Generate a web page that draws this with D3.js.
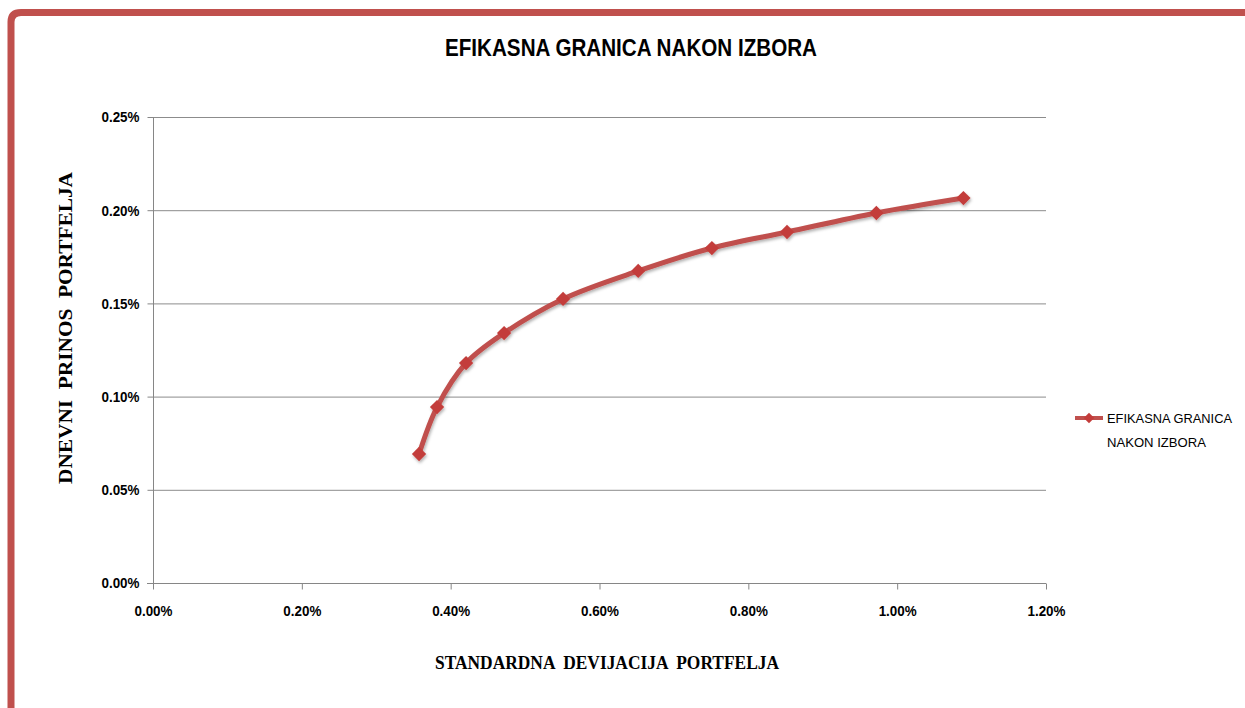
<!DOCTYPE html>
<html>
<head>
<meta charset="utf-8">
<script src="https://cdn.jsdelivr.net/npm/d3@7"></script>
<style>
  body { margin: 0; background: #fff; }
  svg { display: block; }
</style>
</head>
<body>
<div id="chart"></div>
<script>
// data: standard deviation (%) vs daily return (%)
const stdDev = [0.3575, 0.3817, 0.4207, 0.4718, 0.551, 0.652, 0.751, 0.852, 0.972, 1.089];
const dailyReturn = [0.0692, 0.0944, 0.118, 0.1341, 0.1524, 0.1674, 0.1797, 0.1883, 0.1985, 0.2065];
const xTicks = [0, 0.2, 0.4, 0.6, 0.8, 1.0, 1.2];
const yTicks = [0, 0.05, 0.1, 0.15, 0.2, 0.25];
const xTickLabels = ["0.00%", "0.20%", "0.40%", "0.60%", "0.80%", "1.00%", "1.20%"];
const yTickLabels = ["0.00%", "0.05%", "0.10%", "0.15%", "0.20%", "0.25%"];
const chartTitle = "EFIKASNA GRANICA NAKON IZBORA";
const xTitle = "STANDARDNA  DEVIJACIJA  PORTFELJA";
const yTitle = "DNEVNI  PRINOS  PORTFELJA";

const width = 1245, height = 708;
const red = "#c0504d";
const lineRed = "#c0504d";
const narrow = "'Liberation Sans Narrow', 'Arial Narrow', 'Liberation Sans', sans-serif";
const serif = "'Liberation Serif', 'Times New Roman', serif";

const svg = d3.select("#chart").append("svg")
  .attr("width", width)
  .attr("height", height);

// outer frame (red border, rounded top-left)
svg.append("path")
  .attr("d", "M11,708 L11,22 Q11,12.5 21,12.5 L1245,12.5")
  .attr("fill", "none")
  .attr("stroke", red)
  .attr("stroke-width", 7);

const data = stdDev.map((d, i) => ({ x: d, y: dailyReturn[i] }));

const x = d3.scaleLinear().domain([0, 1.2]).range([153, 1046]);
const y = d3.scaleLinear().domain([0, 0.25]).range([583, 117]);

// gridlines
svg.append("g")
  .selectAll("line")
  .data(yTicks.slice(1))
  .enter()
  .append("line")
  .attr("x1", x(0))
  .attr("x2", x(1.2))
  .attr("y1", d => y(d) + 0.5)
  .attr("y2", d => y(d) + 0.5)
  .attr("stroke", "#8c8c8c")
  .attr("stroke-width", 1);

// axes
const xAxis = svg.append("g")
  .attr("class", "x-axis")
  .attr("transform", "translate(0," + (y(0) + 0.5) + ")")
  .call(d3.axisBottom(x).tickValues(xTicks).tickSize(6).tickPadding(16)
    .tickFormat((d, i) => xTickLabels[i]));

const yAxis = svg.append("g")
  .attr("class", "y-axis")
  .attr("transform", "translate(" + (x(0) + 0.5) + ",0)")
  .call(d3.axisLeft(y).tickValues(yTicks).tickSize(6).tickPadding(8)
    .tickFormat((d, i) => yTickLabels[i]));

[xAxis, yAxis].forEach(g => {
  g.select(".domain").attr("stroke", "#868686").attr("stroke-width", 1);
  g.selectAll(".tick line").attr("stroke", "#868686");
  g.selectAll(".tick text")
    .attr("fill", "#000")
    .style("font-family", narrow)
    .style("font-weight", "bold")
    .style("font-size", "15px")
    .attr("textLength", 38)
    .attr("lengthAdjust", "spacingAndGlyphs");
});
xAxis.select(".domain").attr("d", "M" + (x(0) - 6) + ",0H" + x(1.2));
yAxis.select(".domain").attr("d", "M0," + y(0.25) + "V" + y(0));

// shadow filter
const defs = svg.append("defs");
const f = defs.append("filter").attr("id", "shadow")
  .attr("x", "-10%").attr("y", "-10%").attr("width", "120%").attr("height", "130%");
f.append("feDropShadow")
  .attr("dx", 1).attr("dy", 2).attr("stdDeviation", 1.5)
  .attr("flood-color", "#000").attr("flood-opacity", 0.3);

// series line
const line = d3.line()
  .x(d => x(d.x))
  .y(d => y(d.y))
  .curve(d3.curveCatmullRom.alpha(0.5));

const series = svg.append("g").attr("filter", "url(#shadow)");
series.append("path")
  .datum(data)
  .attr("d", line)
  .attr("fill", "none")
  .attr("stroke", lineRed)
  .attr("stroke-width", 5)
  .attr("stroke-linejoin", "round");

const diamond = d3.symbol().type(d3.symbolDiamond2).size(130);
series.selectAll(".marker")
  .data(data)
  .enter()
  .append("path")
  .attr("class", "marker")
  .attr("d", diamond)
  .attr("transform", d => "translate(" + x(d.x) + "," + y(d.y) + ")")
  .attr("fill", "#c33c3a");

// title
svg.append("text")
  .attr("x", 631)
  .attr("y", 56)
  .attr("text-anchor", "middle")
  .style("font-family", narrow)
  .style("font-weight", "bold")
  .style("font-size", "23px")
  .attr("textLength", 372)
  .attr("lengthAdjust", "spacingAndGlyphs")
  .text(chartTitle);

// axis titles
svg.append("text")
  .attr("x", 607)
  .attr("y", 669)
  .attr("text-anchor", "middle")
  .style("font-family", serif)
  .style("font-weight", "bold")
  .style("font-size", "18px")
  .attr("xml:space", "preserve")
  .attr("textLength", 344)
  .attr("lengthAdjust", "spacingAndGlyphs")
  .text(xTitle);

svg.append("text")
  .attr("transform", "translate(72,328) rotate(-90)")
  .attr("text-anchor", "middle")
  .style("font-family", serif)
  .style("font-weight", "bold")
  .style("font-size", "19px")
  .attr("xml:space", "preserve")
  .attr("textLength", 312)
  .attr("lengthAdjust", "spacingAndGlyphs")
  .text(yTitle);

// legend
const legend = svg.append("g").attr("transform", "translate(1075,418)");
legend.append("line")
  .attr("x1", 0).attr("x2", 28)
  .attr("y1", 0).attr("y2", 0)
  .attr("stroke", lineRed)
  .attr("stroke-width", 4);
legend.append("path")
  .attr("d", d3.symbol().type(d3.symbolDiamond2).size(70))
  .attr("transform", "translate(14,0)")
  .attr("fill", "#c33c3a");
const legendText = legend.append("text")
  .attr("x", 32)
  .attr("y", 5)
  .style("font-family", narrow)
  .style("font-size", "13px")
  .attr("fill", "#000");
legendText.append("tspan").attr("x", 32).attr("dy", 0)
  .attr("textLength", 125).attr("lengthAdjust", "spacingAndGlyphs")
  .text("EFIKASNA GRANICA");
legendText.append("tspan").attr("x", 32).attr("dy", 24)
  .attr("textLength", 99).attr("lengthAdjust", "spacingAndGlyphs")
  .text("NAKON IZBORA");
</script>
</body>
</html>
